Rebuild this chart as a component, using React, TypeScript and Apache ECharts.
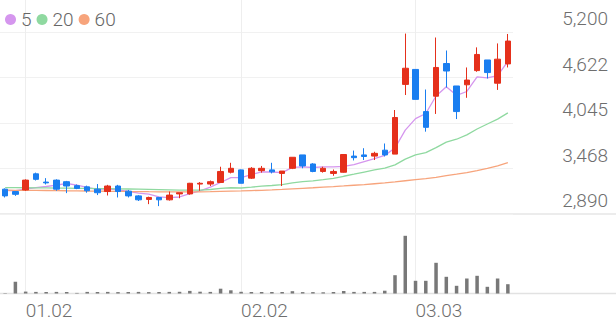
import React, { useEffect, useRef } from "react";
import * as echarts from "echarts";

const dates = [
  "12.29", "12.30", "01.02", "01.05", "01.06", "01.07", "01.08", "01.09", "01.12", "01.13",
  "01.14", "01.15", "01.16", "01.19", "01.20", "01.21", "01.22", "01.23", "01.26", "01.27",
  "01.28", "01.29", "01.30", "02.02", "02.03", "02.04", "02.05", "02.06", "02.09", "02.10",
  "02.11", "02.12", "02.13", "02.19", "02.20", "02.23", "02.24", "02.25", "02.26", "02.27",
  "03.03", "03.04", "03.05", "03.06", "03.09", "03.10", "03.11", "03.12", "03.13", "03.16",
];

const opens = [
  3205, 3175, 3195, 3400, 3295, 3320, 3300, 3250, 3235, 3205,
  3175, 3245, 3180, 3120, 3075, 3100, 3070, 3145, 3145, 3270,
  3270, 3290, 3420, 3450, 3345, 3440, 3450, 3405, 3470, 3640,
  3525, 3430, 3405, 3420, 3625, 3640, 3625, 3700, 3650, 4535,
  4725, 4190, 4385, 4800, 4515, 4530, 4710, 4845, 4550, 4795,
];
const closes = [
  3120, 3140, 3320, 3330, 3285, 3205, 3245, 3215, 3185, 3160,
  3245, 3175, 3120, 3070, 3100, 3070, 3130, 3160, 3280, 3280,
  3300, 3430, 3470, 3280, 3470, 3470, 3425, 3435, 3610, 3500,
  3430, 3470, 3430, 3645, 3605, 3620, 3660, 3640, 4115, 4740,
  4345, 3990, 4750, 4705, 4190, 4590, 4915, 4685, 4855, 5085,
];
const lows = [
  3100, 3120, 3185, 3315, 3265, 3185, 3155, 3205, 3160, 3130,
  3125, 3100, 3100, 3055, 3015, 2990, 3060, 3090, 3135, 3185,
  3245, 3290, 3405, 3280, 3335, 3415, 3405, 3245, 3460, 3470,
  3420, 3415, 3375, 3415, 3570, 3575, 3575, 3620, 3650, 4400,
  4345, 3935, 4160, 4495, 4095, 4365, 4695, 4610, 4465, 4750,
];
const highs = [
  3215, 3175, 3330, 3415, 3345, 3330, 3310, 3265, 3250, 3270,
  3260, 3260, 3195, 3130, 3110, 3100, 3175, 3160, 3285, 3295,
  3315, 3490, 3540, 3455, 3485, 3500, 3540, 3435, 3610, 3640,
  3535, 3490, 3455, 3650, 3695, 3725, 3680, 3785, 4210, 5180,
  4725, 4470, 5130, 4965, 4515, 4750, 5005, 4845, 5055, 5175,
];

const volumes = [
  40, 1170, 190, 160, 150, 160, 150, 60, 160, 150,
  160, 140, 150, 160, 140, 150, 160, 170, 260, 180,
  160, 480, 320, 170, 150, 150, 150, 150, 230, 140,
  140, 120, 150, 250, 160, 160, 160, 280, 1830, 5770,
  1270, 1270, 3070, 1670, 770, 1500, 1770, 670, 1500, 930,
];

const ma5 = [
  3190, 3185, 3205, 3225, 3239, 3256, 3277, 3256, 3227, 3202,
  3210, 3196, 3177, 3154, 3142, 3107, 3098, 3106, 3148, 3184,
  3230, 3290, 3352, 3352, 3390, 3424, 3423, 3416, 3482, 3488,
  3480, 3489, 3488, 3495, 3516, 3554, 3592, 3634, 3728, 3955,
  4100, 4166, 4388, 4506, 4396, 4445, 4630, 4617, 4647, 4826,
];
const ma20 = [
  3225, 3224, 3223, 3222, 3221, 3219, 3218, 3216, 3215, 3213,
  3211, 3209, 3207, 3205, 3203, 3200, 3197, 3194, 3192, 3192,
  3201, 3215, 3223, 3220, 3230, 3243, 3252, 3263, 3284, 3301,
  3310, 3325, 3341, 3369, 3395, 3422, 3449, 3473, 3514, 3587,
  3640, 3668, 3732, 3803, 3839, 3895, 3969, 4032, 4094, 4173,
];
const ma60 = [
  3192, 3191, 3190, 3189, 3188, 3187, 3185, 3184, 3182, 3181,
  3179, 3178, 3176, 3175, 3173, 3172, 3171, 3170, 3171, 3172,
  3174, 3177, 3180, 3183, 3187, 3191, 3196, 3202, 3209, 3216,
  3223, 3231, 3238, 3246, 3255, 3264, 3274, 3284, 3297, 3312,
  3327, 3340, 3356, 3376, 3395, 3415, 3440, 3468, 3502, 3542,
];

const priceTicks = ["2,890", "3,468", "4,045", "4,622", "5,200"];
const labeledDates = ["01.02", "02.02", "03.03"];
const maNames = ["5", "20", "60"];

const RED = "#e5301b";
const BLUE = "#1a7ef0";
const MA_COLORS = ["#d596ee", "#8fd9a0", "#f7a47c"];
const FONT = "Roboto";

export default function App() {
  const ref = useRef<HTMLDivElement>(null);

  useEffect(() => {
    if (!ref.current) return;
    const chart = echarts.init(ref.current, null, { renderer: "svg" });
    const PMIN = 2890;
    const PMAX = 5200;
    const PINT = (PMAX - PMIN) / 4;
    const candleData = dates.map((_, i) => [opens[i], closes[i], lows[i], highs[i]]);
    const showDate = (_i: number, v: string) => labeledDates.indexOf(v) >= 0;
    const maSeries = [ma5, ma20, ma60];

    chart.setOption({
      animation: false,
      legend: {
        data: maNames,
        left: 0,
        top: 5,
        icon: "circle",
        itemWidth: 11,
        itemHeight: 11,
        itemGap: 5,
        selectedMode: false,
        textStyle: { fontSize: 19, color: "#666", fontFamily: FONT, fontWeight: 300 },
      },
      grid: [
        { left: 0, top: 32, width: 513, height: 182 },
        { left: 0, top: 229.5, width: 513, height: 64 },
        { left: 0, top: 0, width: 513, height: 293.5 },
      ],
      xAxis: [
        {
          type: "category", gridIndex: 0, data: dates, boundaryGap: true,
          axisLine: { show: false }, axisTick: { show: false }, axisLabel: { show: false }, splitLine: { show: false },
        },
        {
          type: "category", gridIndex: 1, data: dates, boundaryGap: true,
          axisLine: { show: false }, axisTick: { show: false }, axisLabel: { show: false }, splitLine: { show: false },
        },
        {
          type: "category", gridIndex: 2, data: dates, boundaryGap: true,
          axisLine: { show: false }, axisTick: { show: false },
          splitLine: {
            show: true, interval: showDate, alignWithLabel: true,
            lineStyle: { color: "#eeeeee", width: 1 },
          },
          axisLabel: {
            show: true, interval: showDate, align: "left", margin: 7,
            fontSize: 19, color: "#6e6e6e", fontFamily: FONT, fontWeight: 300,
            hideOverlap: false,
          },
        },
      ],
      yAxis: [
        {
          type: "value", gridIndex: 0, position: "right", min: PMIN, max: PMAX, interval: PINT,
          axisLine: { show: false }, axisTick: { show: false },
          splitLine: { show: true, lineStyle: { color: "#f1f1f1", width: 1 } },
          axisLabel: {
            show: true, inside: false, margin: 95, align: "right", verticalAlign: "bottom",
            padding: [0, 0, 4, 0],
            fontSize: 19, color: "#6e6e6e", fontFamily: FONT, fontWeight: 300,
            formatter: (v: number) => priceTicks[Math.round((v - PMIN) / PINT)] ?? "",
          },
        },
        {
          type: "value", gridIndex: 1, min: 0, max: 6400,
          axisLine: { show: false }, axisTick: { show: false }, axisLabel: { show: false }, splitLine: { show: false },
        },
        {
          type: "value", gridIndex: 2, min: 0, max: 1,
          axisLine: { show: false }, axisTick: { show: false }, axisLabel: { show: false }, splitLine: { show: false },
        },
      ],
      graphic: [
        {
          type: "line", z: 0, silent: true,
          shape: { x1: 0, y1: 214, x2: 616, y2: 214 },
          style: { stroke: "#e6e6e6", lineWidth: 1.5 },
        },
        {
          type: "line", z: 0, silent: true,
          shape: { x1: 0, y1: 293.5, x2: 616, y2: 293.5 },
          style: { stroke: "#e2e2e2", lineWidth: 1.5 },
        },
      ],
      series: [
        ...maNames.map((name, k) => ({
          name,
          type: "line",
          xAxisIndex: 0,
          yAxisIndex: 0,
          data: maSeries[k],
          symbol: "none",
          smooth: false,
          lineStyle: { color: MA_COLORS[k], width: 1.3 },
          itemStyle: { color: MA_COLORS[k] },
          z: 2,
        })),
        {
          name: "price",
          type: "candlestick",
          xAxisIndex: 0,
          yAxisIndex: 0,
          data: candleData,
          barWidth: 6,
          itemStyle: { color: RED, color0: BLUE, borderColor: RED, borderColor0: BLUE, borderWidth: 1 },
          z: 3,
        },
        {
          name: "volume",
          type: "bar",
          xAxisIndex: 1,
          yAxisIndex: 1,
          data: volumes,
          barWidth: 3.5,
          itemStyle: { color: "#787878" },
        },
      ],
    });
    return () => chart.dispose();
  }, []);

  return (
    <div
      ref={ref}
      style={{ position: "absolute", left: 0, top: 0, width: 616, height: 321 }}
    />
  );
}
